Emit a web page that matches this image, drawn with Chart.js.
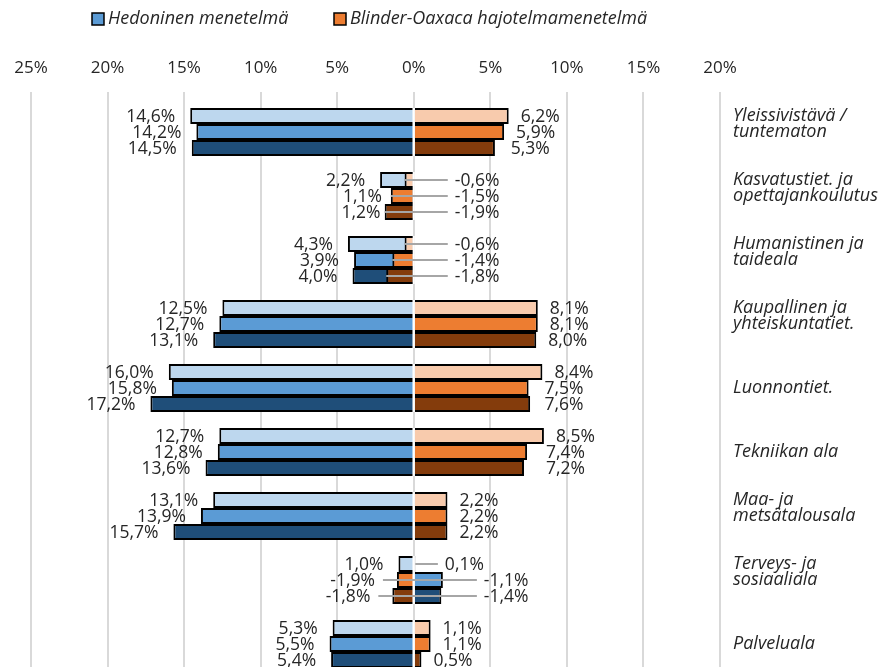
<!DOCTYPE html>
<html lang="fi">
<head>
<meta charset="utf-8">
<title>Palkkaerot koulutusaloittain</title>
<script src="https://cdn.jsdelivr.net/npm/chart.js@4/dist/chart.umd.min.js"></script>
<style>
  html, body { margin: 0; padding: 0; background: #fff; overflow: hidden; }
  #wrap { width: 882px; height: 680px; }
</style>
</head>
<body>
<div id="wrap"><canvas id="chart" width="882" height="680"></canvas></div>
<script>
// Fields of education (label lines)
const categories = [
  ['Yleissivistävä /', 'tuntematon'],
  ['Kasvatustiet. ja', 'opettajankoulutus'],
  ['Humanistinen ja', 'taideala'],
  ['Kaupallinen ja', 'yhteiskuntatiet.'],
  ['Luonnontiet.'],
  ['Tekniikan ala'],
  ['Maa- ja', 'metsätalousala'],
  ['Terveys- ja', 'sosiaaliala'],
  ['Palveluala']
];

const seriesNames = ['Hedoninen menetelmä', 'Blinder-Oaxaca hajotelmamenetelmä'];

// Hedoninen menetelmä, three estimates per field (%)
const hedonic1 = [14.6, 2.2, 4.3, 12.5, 16.0, 12.7, 13.1, 1.0, 5.3];
const hedonic2 = [14.2, 1.1, 3.9, 12.7, 15.8, 12.8, 13.9, -1.9, 5.5];
const hedonic3 = [14.5, 1.2, 4.0, 13.1, 17.2, 13.6, 15.7, -1.8, 5.4];

// Blinder-Oaxaca hajotelmamenetelmä, three estimates per field (%)
const oaxaca1 = [6.2, -0.6, -0.6, 8.1, 8.4, 8.5, 2.2, 0.1, 1.1];
const oaxaca2 = [5.9, -1.5, -1.4, 8.1, 7.5, 7.4, 2.2, -1.1, 1.1];
const oaxaca3 = [5.3, -1.9, -1.8, 8.0, 7.6, 7.2, 2.2, -1.4, 0.5];

// Axis ticks: hedonic values run to the left, shown without sign
const axisTicks = [-25, -20, -15, -10, -5, 0, 5, 10, 15, 20];

const blueColors = ['#BDD7EE', '#5B9BD5', '#1F4E79'];
const orangeColors = ['#F8CBAD', '#ED7D31', '#843C0C'];
const textColor = '#262626';
const gridColor = '#d9d9d9';
const leaderColor = '#a6a6a6';
const FONT = '"Open Sans", "Liberation Sans", sans-serif';

const hedonic = [hedonic1, hedonic2, hedonic3];
const oaxaca = [oaxaca1, oaxaca2, oaxaca3];

const barStyle = {
  borderColor: '#000',
  borderWidth: 2,
  categoryPercentage: 0.75,
  barPercentage: 1.0
};

// Orange bars are listed first (lower order) so they are painted over the blue ones.
const datasets = [];
oaxaca.forEach((vals, r) => datasets.push(Object.assign({
  label: seriesNames[1], data: vals, backgroundColor: orangeColors[r],
  stack: 'row' + r, order: 0
}, barStyle)));
hedonic.forEach((vals, r) => datasets.push(Object.assign({
  label: seriesNames[0], data: vals.map(v => -v), backgroundColor: blueColors[r],
  stack: 'row' + r, order: 1
}, barStyle)));

const fmt = v => v.toFixed(1).replace('.', ',') + '%';

// Value labels with leader lines, white zero line across the bars
const valueLabels = {
  id: 'valueLabels',
  afterDatasetsDraw(chart) {
    const ctx = chart.ctx;
    const zero = chart.scales.x.getPixelForValue(0);
    const orangeMeta = [0, 1, 2].map(i => chart.getDatasetMeta(i));
    const blueMeta = [3, 4, 5].map(i => chart.getDatasetMeta(i));
    ctx.save();
    categories.forEach((_, i) => {
      const oEls = orangeMeta.map(m => m.data[i]);
      const bEls = blueMeta.map(m => m.data[i]);
      const all = oEls.concat(bEls);
      const catRight = Math.max(zero, ...all.map(e => e.x));
      const top = Math.min(...all.map(e => e.y - e.height / 2));
      const bottom = Math.max(...all.map(e => e.y + e.height / 2));

      // zero line over the bars
      ctx.strokeStyle = '#ffffff';
      ctx.lineWidth = 2;
      ctx.beginPath();
      ctx.moveTo(zero, top);
      ctx.lineTo(zero, bottom);
      ctx.stroke();

      const lines = [];
      const texts = [];
      for (let r = 0; r < 3; r++) {
        const bEl = bEls[r], oEl = oEls[r];
        const hv = hedonic[r][i], ov = oaxaca[r][i];
        const y = bEl.y + 1;
        // hedonic label (left side)
        if (hv >= 0) {
          texts.push({x: bEl.x - 15, y, t: fmt(hv), align: 'right'});
        } else {
          const right = Math.min(zero, oEl.x) - 22;
          lines.push([bEl.x, right + 8, bEl.y]);
          texts.push({x: right, y, t: fmt(hv), align: 'right'});
        }
        // Blinder-Oaxaca label (right side)
        if (ov >= 0) {
          const left = Math.max(oEl.x + 12, catRight + 2);
          if (left - oEl.x > 25) lines.push([oEl.x, left - 7, oEl.y]);
          texts.push({x: left, y, t: fmt(ov), align: 'left'});
        } else {
          const left = catRight + 41;
          lines.push([oEl.x, left - 7, oEl.y]);
          texts.push({x: left, y, t: fmt(ov), align: 'left'});
        }
      }
      ctx.strokeStyle = leaderColor;
      ctx.lineWidth = 2;
      lines.forEach(([x1, x2, y]) => {
        ctx.beginPath();
        ctx.moveTo(x1, y);
        ctx.lineTo(x2, y);
        ctx.stroke();
      });
      ctx.fillStyle = textColor;
      ctx.font = '17.5px ' + FONT;
      ctx.textBaseline = 'middle';
      texts.forEach(o => {
        ctx.textAlign = o.align;
        ctx.fillText(o.t, o.x, o.y);
      });
    });
    ctx.restore();
  }
};

// Legend with the two methods
const topLegend = {
  id: 'topLegend',
  afterDraw(chart) {
    const ctx = chart.ctx;
    const items = [
      {x: 92, color: blueColors[1], text: seriesNames[0]},
      {x: 334, color: orangeColors[1], text: seriesNames[1]}
    ];
    ctx.save();
    ctx.font = 'italic 18px ' + FONT;
    ctx.textBaseline = 'middle';
    ctx.textAlign = 'left';
    items.forEach(it => {
      ctx.fillStyle = it.color;
      ctx.fillRect(it.x, 13, 12, 12);
      ctx.strokeStyle = '#000';
      ctx.lineWidth = 1.5;
      ctx.strokeRect(it.x, 13, 12, 12);
      ctx.fillStyle = textColor;
      ctx.fillText(it.text, it.x + 16, 19);
    });
    ctx.restore();
  }
};

new Chart(document.getElementById('chart'), {
  type: 'bar',
  data: { labels: categories, datasets },
  options: {
    indexAxis: 'y',
    responsive: false,
    animation: false,
    devicePixelRatio: 1,
    layout: { autoPadding: false, padding: { left: 31, top: 50, right: 0, bottom: 4 } },
    scales: {
      x: {
        position: 'top',
        min: -25,
        max: 20,
        stacked: false,
        afterBuildTicks: s => { s.ticks = axisTicks.map(v => ({ value: v })); },
        afterFit: s => { s.height = 50; },
        grid: { color: gridColor, lineWidth: 2, tickLength: 8, tickColor: gridColor, drawTicks: true },
        border: { display: false },
        ticks: {
          callback: v => Math.abs(v) + '%',
          font: { family: FONT, size: 17 },
          color: textColor,
          padding: 14,
          maxRotation: 0,
          autoSkip: false
        }
      },
      y: {
        position: 'right',
        afterFit: s => { s.width = 162; s.paddingTop = 0; s.paddingBottom = 0; },
        grid: { display: false, drawTicks: false },
        border: { display: false },
        ticks: {
          autoSkip: false,
          padding: 13,
          color: textColor,
          font: { family: FONT, size: 18, style: 'italic', lineHeight: 0.9 },
          callback: function (value) {
            const lines = this.chart.data.labels[value];
            return lines.length > 1 ? lines.concat(['']) : lines;
          }
        }
      }
    },
    plugins: {
      legend: { display: false },
      tooltip: { enabled: false }
    }
  },
  plugins: [valueLabels, topLegend]
});
</script>
</body>
</html>
